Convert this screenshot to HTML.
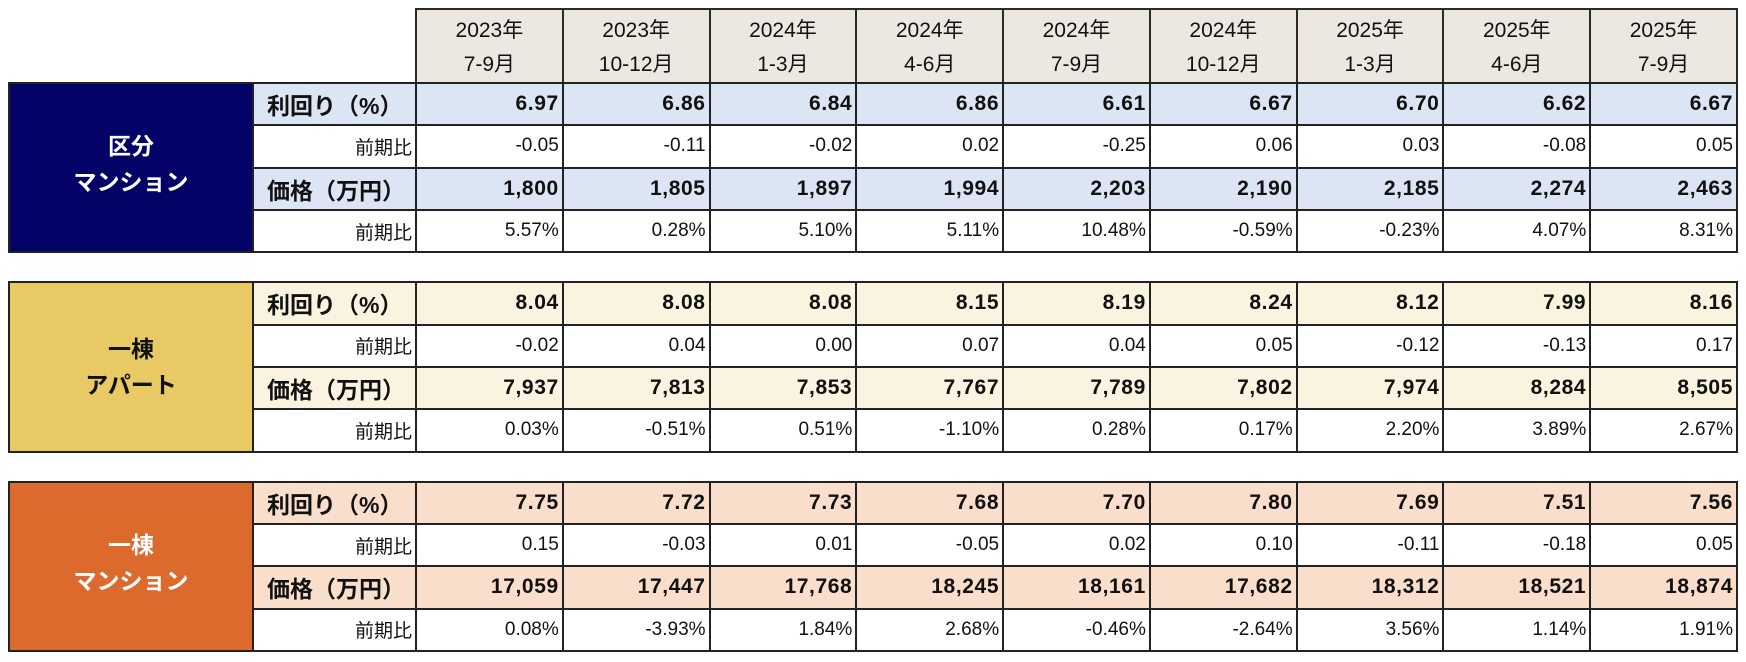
<!DOCTYPE html>
<html><head><meta charset="utf-8">
<style>
html,body{margin:0;padding:0;background:#fff;}
body{width:1746px;height:662px;position:relative;overflow:hidden;font-family:"Liberation Sans","Noto Sans CJK JP",sans-serif;color:#111;}
.hdr{position:absolute;left:415px;top:8px;width:1323px;height:74px;box-sizing:border-box;padding:2px 2px 0 2px;background:#2a2a2a;display:grid;grid-template-columns:repeat(9,1fr);column-gap:2px;}
.hdr div{background:#ECE8E1;text-align:center;font-size:21px;line-height:34px;padding-top:4px;box-sizing:border-box;}
.sec{position:absolute;left:8px;width:1730px;height:171.3px;box-sizing:border-box;padding:2px;background:#222;display:grid;grid-template-columns:242px 161px repeat(9,1fr);grid-template-rows:repeat(4,1fr);gap:2px;}
.cat{grid-row:1 / span 4;display:flex;align-items:center;justify-content:center;text-align:center;font-weight:bold;font-size:23px;line-height:36px;}
.sec div.c{display:flex;align-items:center;justify-content:flex-end;padding-right:3px;box-sizing:border-box;}
.lb{font-weight:bold;font-size:23px;justify-content:flex-start !important;padding-left:13px;}
.lr{font-size:19px;}
.b{font-weight:bold;font-size:21px;letter-spacing:0.6px;}
.n{font-size:19px;}
.w{background:#fff;}
.s1 .h{background:#DCE5F3;}
.s2 .h{background:#FAF3DF;}
.s3 .h{background:#F9DECB;}
</style></head><body>
<div class="hdr">
<div>2023年<br>7-9月</div><div>2023年<br>10-12月</div><div>2024年<br>1-3月</div><div>2024年<br>4-6月</div><div>2024年<br>7-9月</div><div>2024年<br>10-12月</div><div>2025年<br>1-3月</div><div>2025年<br>4-6月</div><div>2025年<br>7-9月</div>
</div>

<div class="sec s1" style="top:82px;">
<div class="cat" style="background:#030266;color:#fff;"><div style="margin-top:-8px;">区分<br>マンション</div></div>
<div class="c h lb">利回り（%）</div>
<div class="c h b">6.97</div><div class="c h b">6.86</div><div class="c h b">6.84</div><div class="c h b">6.86</div><div class="c h b">6.61</div><div class="c h b">6.67</div><div class="c h b">6.70</div><div class="c h b">6.62</div><div class="c h b">6.67</div>
<div class="c w lr">前期比</div>
<div class="c w n">-0.05</div><div class="c w n">-0.11</div><div class="c w n">-0.02</div><div class="c w n">0.02</div><div class="c w n">-0.25</div><div class="c w n">0.06</div><div class="c w n">0.03</div><div class="c w n">-0.08</div><div class="c w n">0.05</div>
<div class="c h lb">価格（万円）</div>
<div class="c h b">1,800</div><div class="c h b">1,805</div><div class="c h b">1,897</div><div class="c h b">1,994</div><div class="c h b">2,203</div><div class="c h b">2,190</div><div class="c h b">2,185</div><div class="c h b">2,274</div><div class="c h b">2,463</div>
<div class="c w lr">前期比</div>
<div class="c w n">5.57%</div><div class="c w n">0.28%</div><div class="c w n">5.10%</div><div class="c w n">5.11%</div><div class="c w n">10.48%</div><div class="c w n">-0.59%</div><div class="c w n">-0.23%</div><div class="c w n">4.07%</div><div class="c w n">8.31%</div>
</div>

<div class="sec s2" style="top:281.3px;">
<div class="cat" style="background:#E9C963;color:#111;"><div>一棟<br>アパート</div></div>
<div class="c h lb">利回り（%）</div>
<div class="c h b">8.04</div><div class="c h b">8.08</div><div class="c h b">8.08</div><div class="c h b">8.15</div><div class="c h b">8.19</div><div class="c h b">8.24</div><div class="c h b">8.12</div><div class="c h b">7.99</div><div class="c h b">8.16</div>
<div class="c w lr">前期比</div>
<div class="c w n">-0.02</div><div class="c w n">0.04</div><div class="c w n">0.00</div><div class="c w n">0.07</div><div class="c w n">0.04</div><div class="c w n">0.05</div><div class="c w n">-0.12</div><div class="c w n">-0.13</div><div class="c w n">0.17</div>
<div class="c h lb">価格（万円）</div>
<div class="c h b">7,937</div><div class="c h b">7,813</div><div class="c h b">7,853</div><div class="c h b">7,767</div><div class="c h b">7,789</div><div class="c h b">7,802</div><div class="c h b">7,974</div><div class="c h b">8,284</div><div class="c h b">8,505</div>
<div class="c w lr">前期比</div>
<div class="c w n">0.03%</div><div class="c w n">-0.51%</div><div class="c w n">0.51%</div><div class="c w n">-1.10%</div><div class="c w n">0.28%</div><div class="c w n">0.17%</div><div class="c w n">2.20%</div><div class="c w n">3.89%</div><div class="c w n">2.67%</div>
</div>

<div class="sec s3" style="top:480.7px;">
<div class="cat" style="background:#DC6A2C;color:#fff;"><div style="margin-top:-6px;">一棟<br>マンション</div></div>
<div class="c h lb">利回り（%）</div>
<div class="c h b">7.75</div><div class="c h b">7.72</div><div class="c h b">7.73</div><div class="c h b">7.68</div><div class="c h b">7.70</div><div class="c h b">7.80</div><div class="c h b">7.69</div><div class="c h b">7.51</div><div class="c h b">7.56</div>
<div class="c w lr">前期比</div>
<div class="c w n">0.15</div><div class="c w n">-0.03</div><div class="c w n">0.01</div><div class="c w n">-0.05</div><div class="c w n">0.02</div><div class="c w n">0.10</div><div class="c w n">-0.11</div><div class="c w n">-0.18</div><div class="c w n">0.05</div>
<div class="c h lb">価格（万円）</div>
<div class="c h b">17,059</div><div class="c h b">17,447</div><div class="c h b">17,768</div><div class="c h b">18,245</div><div class="c h b">18,161</div><div class="c h b">17,682</div><div class="c h b">18,312</div><div class="c h b">18,521</div><div class="c h b">18,874</div>
<div class="c w lr">前期比</div>
<div class="c w n">0.08%</div><div class="c w n">-3.93%</div><div class="c w n">1.84%</div><div class="c w n">2.68%</div><div class="c w n">-0.46%</div><div class="c w n">-2.64%</div><div class="c w n">3.56%</div><div class="c w n">1.14%</div><div class="c w n">1.91%</div>
</div>
</body></html>
